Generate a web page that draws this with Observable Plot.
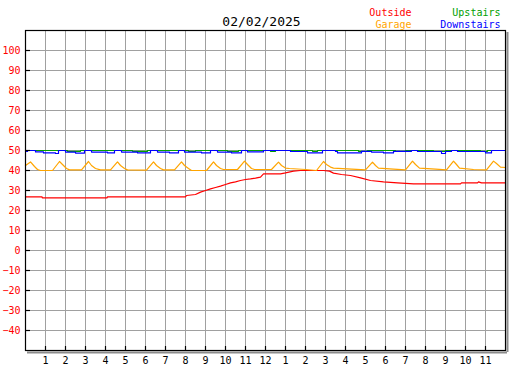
<!DOCTYPE html>
<html><head><meta charset="utf-8">
<script src="https://cdn.jsdelivr.net/npm/d3@7"></script>
<script src="https://cdn.jsdelivr.net/npm/@observablehq/plot@0.6"></script>
<style>html,body{margin:0;padding:0;background:#fff;} svg{display:block}</style>
</head><body><div id="chart"></div>
<script>
const title = "02/02/2025";
const seriesNames = ["Outside", "Garage", "Upstairs", "Downstairs"];
const seriesColors = ["#ff0000", "#ffa500", "#00a000", "#0000ff"];
const xTicks = [1,2,3,4,5,6,7,8,9,10,11,12,13,14,15,16,17,18,19,20,21,22,23];
const xTickLabels = ["1","2","3","4","5","6","7","8","9","10","11","12","1","2","3","4","5","6","7","8","9","10","11"];
const yTicks = [-40,-30,-20,-10,0,10,20,30,40,50,60,70,80,90,100];

// [hour, value]
const outside = [[0,26.8],[0.83,26.8],[0.84,26.3],[4.08,26.3],[4.09,26.8],[8.0,26.8],[8.05,27.5],[8.5,28],[8.75,29.2],[9.0,30],[9.25,30.8],[9.5,31.5],[9.75,32.2],[10.0,33],[10.25,33.8],[10.5,34.3],[10.75,35],[11.0,35.5],[11.25,35.8],[11.5,36.2],[11.75,36.7],[11.9,38.3],[12.75,38.3],[13.0,38.8],[13.4,39.7],[13.75,40],[14.9,40],[15.2,39.7],[15.4,38.7],[15.8,38],[16.25,37.5],[16.75,36.3],[17.25,35],[17.9,34.3],[18.6,33.8],[19.4,33.3],[21.75,33.3],[21.8,33.8],[22.6,33.8],[22.65,34.3],[22.8,33.8],[24,33.8]];
const garage = [[0,42.5],[0.25,44.3],[0.45,42],[0.6,40.5],[0.75,40],[1.35,40],[1.7,44.5],[1.85,43],[2.05,41],[2.2,40.3],[2.8,40.3],[3.15,44.5],[3.3,42.5],[3.5,41],[3.75,40.3],[4.25,40.3],[4.6,44.3],[4.75,42.5],[4.95,41],[5.1,40.3],[6.05,40.2],[6.4,44.3],[6.55,42.5],[6.75,41],[6.9,40.3],[7.45,40.3],[7.8,44.3],[7.95,42.5],[8.15,41],[8.3,40],[9.05,40],[9.4,44.3],[9.55,42.5],[9.75,41],[9.9,40.5],[10.6,40.5],[10.95,44.7],[11.1,43],[11.3,41],[11.45,40.5],[12.3,40.5],[12.65,44.2],[12.8,42.5],[13.0,41.2],[13.2,41],[14.0,40.5],[14.55,40],[14.9,44.5],[15.05,43],[15.25,41.7],[15.4,41.2],[17.0,40.3],[17.35,44.2],[17.5,42.5],[17.65,41.2],[18.4,40.7],[19.0,40.3],[19.35,44.7],[19.5,43],[19.7,41.2],[20.5,40.7],[21.05,40.3],[21.4,44.7],[21.55,43],[21.7,41.2],[22.4,40.5],[23.05,40.3],[23.4,44.7],[23.55,43.5],[23.75,41.7],[24,41.5]];
const upstairs = [[0,50],[2.1,49.6],[2.75,50],[5.35,49.6],[6.1,50],[8.15,49.6],[8.5,50],[10.1,49.6],[10.65,50],[12.25,49.6],[12.5,50],[14.35,49.6],[14.6,50],[16.65,49.6],[17.1,50],[18.5,49.6],[19.0,50],[20.4,49.6],[21.0,50],[22.75,49.6],[23.1,50],[24,50]];
const downstairs = [[0,49.5],[0.1,50],[0.5,49.3],[0.9,48.8],[1.5,48.5],[1.65,50],[2.0,49.2],[2.5,48.7],[2.95,50],[3.3,49.2],[4.1,48.8],[4.45,50],[4.8,49.2],[5.6,48.8],[6.25,50],[6.6,49.2],[7.2,48.8],[7.65,50],[7.95,49.2],[8.8,48.8],[9.25,50],[9.6,49.2],[10.3,48.8],[10.8,50],[11.1,49.3],[11.9,50],[13.25,49.5],[14.1,48.8],[14.85,50],[15.5,49.5],[15.6,48.8],[16.8,49.6],[17.3,49.2],[17.9,48.8],[18.4,49.6],[19.3,50],[19.6,49.5],[20.8,48.5],[21.0,49.5],[21.3,50],[21.6,49.5],[23.0,48.8],[23.3,50],[24,50]];

const font = "DejaVu Sans Mono";
const rows = (arr) => arr.map(([h, v]) => ({h, v}));

const legendMark = (i, anchorDx, dy) => Plot.text([seriesNames[i]], {
  text: d => d, frameAnchor: "top-right", dx: anchorDx, dy, textAnchor: "end",
  lineAnchor: "bottom", fill: seriesColors[i], fontSize: 10, fontFamily: font
});

const chart = Plot.plot({
  width: 527, height: 370,
  marginLeft: 25, marginRight: 22, marginTop: 30, marginBottom: 20,
  style: {fontFamily: font, fontSize: "10px", background: "#fff", overflow: "visible"},
  x: {domain: [0, 24]},
  y: {domain: [-50, 110]},
  marks: [
    Plot.ruleX(xTicks, {stroke: "#a0a0a0", strokeWidth: 1}),
    Plot.ruleY(yTicks, {stroke: "#a0a0a0", strokeWidth: 1}),
    Plot.ruleX([24], {y1: -50, y2: 110, dx: 2, dy: 2, stroke: "#8c8c8c", strokeWidth: 2}),
    Plot.ruleY([-50], {x1: 0, x2: 24, dx: 2, dy: 2, stroke: "#8c8c8c", strokeWidth: 2}),
    Plot.line(rows(outside), {x: "h", y: "v", stroke: seriesColors[0], strokeWidth: 1.2}),
    Plot.line(rows(garage), {x: "h", y: "v", stroke: seriesColors[1], strokeWidth: 1.2}),
    Plot.line(rows(upstairs), {x: "h", y: "v", stroke: seriesColors[2], strokeWidth: 1.2, curve: "step-after"}),
    Plot.line(rows(downstairs), {x: "h", y: "v", stroke: seriesColors[3], strokeWidth: 1.2, curve: "step-after"}),
    Plot.frame({stroke: "#000", strokeWidth: 1.2}),
    Plot.ruleY(yTicks, {x1: 0, x2: 0.25, stroke: "#000", strokeWidth: 1.2}),
    Plot.ruleX(xTicks, {y1: -50, y2: -48, stroke: "#000", strokeWidth: 1.2}),
    Plot.axisY(yTicks, {tickSize: 0, tickPadding: 5, color: "#ff0000", fontSize: 10, fontFamily: font, label: null}),
    Plot.axisX(xTicks, {tickSize: 0, tickPadding: 6, color: "#000", fontSize: 10, fontFamily: font, label: null,
      tickFormat: d => xTickLabels[xTicks.indexOf(d)]}),
    Plot.text([title], {text: d => d, frameAnchor: "top", dx: -4, dy: -5, lineAnchor: "bottom", fontSize: 13, fontFamily: font, fill: "#000"}),
    legendMark(0, -94, -15),
    legendMark(1, -94, -3),
    legendMark(2, -5, -15),
    legendMark(3, -5, -3)
  ]
});
document.getElementById("chart").appendChild(chart);
</script>
</body></html>
